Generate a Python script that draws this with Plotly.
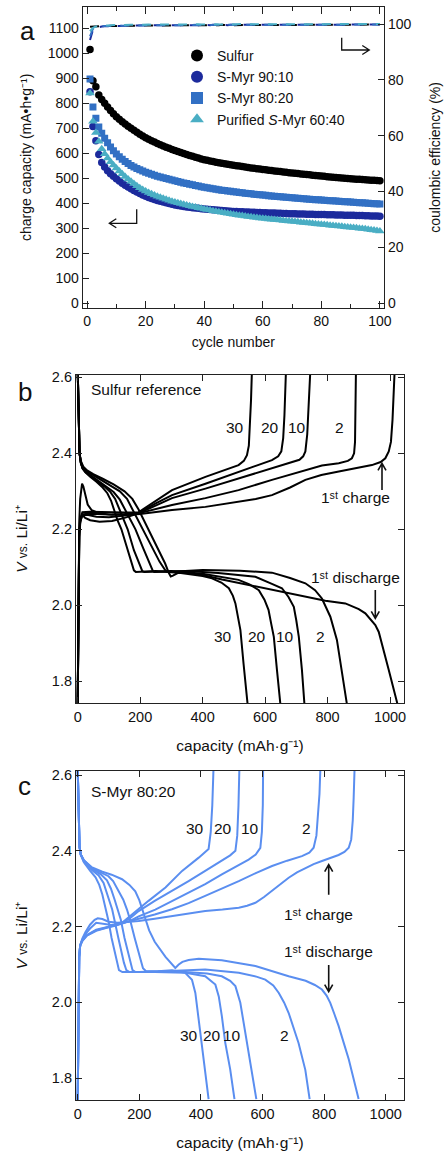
import math
import plotly.graph_objects as go

FONT = "Liberation Sans, Arial, Helvetica, sans-serif"
W, H = 445, 1157

# ---------------- panel a data ----------------
cycles = list(range(1, 101))

cap_sulfur = [1015, 890, 866, 833, 815, 800, 785, 771, 758, 746,
              736, 726, 717, 708, 700, 692, 684, 676, 669, 662,
              656, 650, 645, 639, 634, 629, 624, 620, 615, 611,
              607, 603, 599, 595, 591, 588, 584, 581, 577, 574,
              572, 569, 567, 564, 562, 560, 558, 556, 554, 552,
              550, 549, 547, 545, 543, 541, 540, 538, 537, 535,
              534, 532, 531, 529, 528, 527, 525, 524, 522, 521,
              520, 519, 517, 516, 515, 514, 512, 511, 510, 509,
              508, 506, 505, 504, 503, 502, 501, 500, 499, 498,
              497, 496, 496, 495, 494, 493, 492, 492, 491, 490]

cap_9010 = [846, 707, 650, 595, 563, 545, 530, 518, 508, 498,
            489, 480, 472, 465, 458, 451, 445, 439, 433, 428,
            423, 419, 415, 411, 408, 405, 402, 399, 396, 393,
            391, 389, 387, 385, 384, 382, 381, 380, 378, 377,
            376, 375, 374, 373, 372, 371, 370, 369, 368, 367,
            367, 366, 366, 365, 365, 364, 364, 363, 363, 362,
            362, 361, 361, 361, 360, 360, 359, 359, 358, 358,
            358, 357, 357, 357, 356, 356, 356, 355, 355, 355,
            355, 354, 354, 354, 353, 353, 353, 352, 352, 352,
            352, 351, 351, 351, 350, 350, 349, 349, 349, 348]

cap_8020 = [897, 785, 740, 705, 680, 660, 642, 625, 610, 597,
            586, 576, 567, 559, 551, 545, 539, 534, 529, 524,
            520, 516, 512, 508, 505, 502, 499, 496, 493, 490,
            487, 484, 481, 479, 476, 474, 471, 469, 466, 464,
            462, 460, 458, 456, 454, 452, 451, 449, 448, 446,
            445, 443, 442, 440, 439, 438, 436, 435, 434, 433,
            432, 430, 429, 428, 427, 426, 425, 424, 423, 422,
            421, 420, 419, 418, 417, 416, 415, 414, 414, 413,
            412, 411, 410, 410, 409, 408, 407, 406, 406, 405,
            404, 403, 402, 402, 401, 400, 399, 398, 398, 397]

cap_6040 = [840, 727, 682, 647, 617, 597, 580, 565, 552, 540,
            528, 517, 506, 496, 487, 478, 469, 461, 454, 448,
            442, 437, 432, 427, 423, 419, 415, 411, 407, 404,
            401, 398, 395, 392, 389, 386, 384, 381, 379, 376,
            374, 372, 369, 367, 365, 363, 361, 359, 357, 355,
            353, 351, 350, 348, 346, 345, 343, 342, 340, 339,
            338, 336, 335, 334, 333, 332, 330, 329, 328, 327,
            326, 325, 323, 322, 321, 320, 319, 317, 316, 315,
            314, 313, 311, 310, 309, 308, 307, 305, 304, 303,
            302, 301, 299, 298, 297, 295, 293, 292, 290, 288]

ce_sulfur = [99.0, 99.1, 99.2, 99.2, 99.3, 99.3, 99.3, 99.4, 99.4, 99.3,
             99.4, 99.4, 99.5, 99.4, 99.4, 99.5, 99.5, 99.4, 99.5, 99.5,
             99.5, 99.5, 99.4, 99.5, 99.5, 99.6, 99.5, 99.5, 99.5, 99.6,
             99.5, 99.6, 99.6, 99.5, 99.6, 99.6, 99.5, 99.6, 99.6, 99.6,
             99.6, 99.5, 99.6, 99.6, 99.6, 99.7, 99.6, 99.6, 99.5, 99.6,
             99.6, 99.6, 99.7, 99.6, 99.6, 99.6, 99.7, 99.6, 99.6, 99.7,
             99.6, 99.7, 99.6, 99.6, 99.7, 99.7, 99.6, 99.7, 99.6, 99.7,
             99.7, 99.6, 99.7, 99.7, 99.6, 99.7, 99.7, 99.7, 99.6, 99.7,
             99.7, 99.7, 99.6, 99.7, 99.7, 99.7, 99.8, 99.7, 99.7, 99.7,
             99.7, 99.8, 99.7, 99.7, 99.8, 99.7, 99.7, 99.8, 99.7, 99.8]

ce_9010 = [94.3, 97.9, 98.6, 98.9, 99.1, 99.2, 99.2, 99.3, 99.3, 99.4,
           99.4, 99.4, 99.4, 99.5, 99.4, 99.5, 99.5, 99.5, 99.4, 99.5,
           99.5, 99.5, 99.6, 99.5, 99.5, 99.5, 99.6, 99.5, 99.6, 99.6,
           99.5, 99.6, 99.6, 99.6, 99.5, 99.6, 99.6, 99.6, 99.7, 99.6,
           99.6, 99.6, 99.7, 99.6, 99.6, 99.7, 99.6, 99.6, 99.7, 99.7,
           99.6, 99.7, 99.7, 99.6, 99.7, 99.7, 99.7, 99.6, 99.7, 99.7,
           99.7, 99.7, 99.6, 99.7, 99.7, 99.8, 99.7, 99.7, 99.7, 99.7,
           99.8, 99.7, 99.7, 99.7, 99.8, 99.7, 99.7, 99.8, 99.7, 99.7,
           99.8, 99.7, 99.8, 99.7, 99.7, 99.8, 99.8, 99.7, 99.8, 99.8,
           99.7, 99.8, 99.8, 99.7, 99.8, 99.8, 99.8, 99.7, 99.8, 99.8]

ce_8020 = [95.6, 98.3, 98.9, 99.1, 99.2, 99.3, 99.3, 99.4, 99.4, 99.4,
           99.5, 99.4, 99.5, 99.5, 99.5, 99.5, 99.6, 99.5, 99.5, 99.6,
           99.6, 99.5, 99.6, 99.6, 99.6, 99.6, 99.5, 99.6, 99.6, 99.7,
           99.6, 99.6, 99.7, 99.6, 99.6, 99.7, 99.7, 99.6, 99.7, 99.7,
           99.6, 99.7, 99.7, 99.7, 99.7, 99.6, 99.7, 99.7, 99.8, 99.7,
           99.7, 99.7, 99.8, 99.7, 99.7, 99.7, 99.8, 99.7, 99.7, 99.8,
           99.7, 99.8, 99.7, 99.8, 99.7, 99.8, 99.8, 99.7, 99.8, 99.8,
           99.7, 99.8, 99.8, 99.8, 99.7, 99.8, 99.8, 99.8, 99.8, 99.7,
           99.8, 99.8, 99.8, 99.9, 99.8, 99.8, 99.8, 99.8, 99.9, 99.8,
           99.8, 99.8, 99.9, 99.8, 99.8, 99.9, 99.8, 99.8, 99.9, 99.8]

ce_6040 = [97.4, 98.6, 99.1, 99.3, 99.4, 99.5, 99.5, 99.6, 99.6, 99.6,
           99.7, 99.6, 99.7, 99.7, 99.7, 99.7, 99.8, 99.7, 99.7, 99.8,
           99.8, 99.7, 99.8, 99.8, 99.8, 99.8, 99.7, 99.8, 99.8, 99.9,
           99.8, 99.8, 99.9, 99.8, 99.8, 99.9, 99.8, 99.9, 99.8, 99.9,
           99.9, 99.8, 99.9, 99.9, 99.8, 99.9, 99.9, 99.9, 99.8, 99.9,
           99.9, 99.9, 100.0, 99.9, 99.9, 99.9, 99.9, 100.0, 99.9, 99.9,
           99.9, 100.0, 99.9, 99.9, 100.0, 99.9, 99.9, 100.0, 99.9, 100.0,
           99.9, 100.0, 99.9, 100.0, 100.0, 99.9, 100.0, 99.9, 100.0, 100.0,
           99.9, 100.0, 100.0, 99.9, 100.0, 100.0, 100.0, 99.9, 100.0, 100.0,
           100.0, 99.9, 100.0, 100.0, 100.0, 100.0, 99.9, 100.0, 100.0, 100.0]

series_names = ["Sulfur", "S-Myr 90:10", "S-Myr 80:20", "Purified <i>S</i>-Myr 60:40"]

# ---------------- panel b data: sulfur reference (capacity mAh/g, voltage V) ----------------
S_D1 = [(0, 2.62), (2, 2.55), (4, 2.45), (6, 2.40), (10, 2.38), (18, 2.365), (30, 2.355), (50, 2.345),
        (80, 2.333), (115, 2.318), (150, 2.3), (175, 2.28), (195, 2.252), (211, 2.225), (228, 2.2),
        (255, 2.155), (280, 2.11), (292, 2.085), (298, 2.076), (305, 2.078), (320, 2.085), (350, 2.086),
        (400, 2.08), (462, 2.068), (540, 2.055), (622, 2.04), (729, 2.023), (793, 2.012), (857, 2.005),
        (900, 1.99), (921, 1.979), (940, 1.962), (953, 1.948), (964, 1.93), (974, 1.90), (985, 1.865),
        (996, 1.83), (1024, 1.74)]
S_D2 = [(0, 2.62), (2, 2.55), (4, 2.45), (6, 2.40), (10, 2.378), (16, 2.363), (25, 2.355), (45, 2.345),
        (75, 2.332), (105, 2.317), (135, 2.3), (158, 2.28), (177, 2.25), (192, 2.225), (208, 2.2),
        (235, 2.155), (262, 2.115), (280, 2.093), (288, 2.088), (400, 2.093), (520, 2.091), (622, 2.086),
        (680, 2.072), (729, 2.058), (760, 2.04), (782, 2.018), (809, 1.97), (830, 1.909), (846, 1.83),
        (862, 1.74)]
S_D10 = [(0, 2.62), (2, 2.55), (4, 2.45), (6, 2.40), (10, 2.375), (16, 2.36), (25, 2.352), (40, 2.343),
         (65, 2.33), (90, 2.315), (115, 2.298), (135, 2.278), (152, 2.25), (168, 2.225), (185, 2.2),
         (210, 2.15), (230, 2.11), (240, 2.092), (245, 2.088), (350, 2.09), (450, 2.085), (569, 2.075),
         (620, 2.057), (654, 2.045), (675, 2.022), (692, 1.996), (700, 1.96), (708, 1.917), (718, 1.83),
         (726, 1.74)]
S_D20 = [(0, 2.62), (2, 2.55), (4, 2.45), (6, 2.40), (10, 2.375), (16, 2.36), (25, 2.35), (40, 2.34),
         (60, 2.328), (85, 2.313), (105, 2.298), (120, 2.28), (132, 2.255), (145, 2.228), (160, 2.2),
         (180, 2.145), (198, 2.105), (207, 2.09), (213, 2.088), (300, 2.09), (400, 2.083), (515, 2.067),
         (550, 2.055), (580, 2.04), (598, 2.015), (611, 1.988), (620, 1.95), (628, 1.917), (638, 1.83),
         (649, 1.74)]
S_D30 = [(0, 2.62), (2, 2.55), (4, 2.45), (6, 2.40), (10, 2.375), (16, 2.36), (25, 2.35), (40, 2.338),
         (60, 2.325), (80, 2.31), (95, 2.295), (107, 2.275), (117, 2.25), (127, 2.225), (140, 2.2),
         (155, 2.16), (170, 2.115), (180, 2.092), (186, 2.088), (250, 2.09), (330, 2.085), (400, 2.077),
         (430, 2.071), (460, 2.06), (484, 2.045), (497, 2.025), (505, 2.005), (513, 1.97), (521, 1.935),
         (531, 1.847), (544, 1.74)]

S_C1 = [(0, 1.74), (1.5, 1.95), (3, 2.12), (5, 2.22), (8, 2.28), (11, 2.31), (14, 2.32), (18, 2.313),
        (24, 2.29), (32, 2.265), (45, 2.25), (70, 2.242), (110, 2.238), (160, 2.238), (200, 2.24),
        (250, 2.245), (302, 2.251), (409, 2.259), (515, 2.273), (570, 2.28), (622, 2.29), (680, 2.31),
        (729, 2.33), (780, 2.343), (836, 2.352), (890, 2.36), (942, 2.369), (970, 2.377), (985, 2.387),
        (996, 2.405), (1003, 2.43), (1008, 2.488), (1012, 2.55), (1015, 2.62)]
S_C2 = [(0, 1.74), (1.5, 1.95), (3, 2.1), (5, 2.18), (8, 2.215), (12, 2.232), (17, 2.236), (24, 2.23),
        (40, 2.224), (70, 2.22), (110, 2.222), (150, 2.23), (195, 2.242), (250, 2.253), (302, 2.264),
        (409, 2.282), (515, 2.303), (622, 2.33), (729, 2.356), (782, 2.368), (836, 2.374), (865, 2.38),
        (878, 2.387), (885, 2.40), (888, 2.43), (890, 2.5), (891, 2.62)]
S_C10 = [(0, 1.74), (1.5, 1.95), (3, 2.1), (5, 2.18), (8, 2.22), (15, 2.236), (30, 2.238), (60, 2.233),
         (100, 2.232), (150, 2.236), (195, 2.242), (250, 2.263), (302, 2.282), (409, 2.307), (515, 2.334),
         (622, 2.36), (680, 2.375), (710, 2.383), (722, 2.392), (729, 2.405), (735, 2.45), (740, 2.52),
         (745, 2.62)]
S_C20 = [(0, 1.74), (1.5, 1.95), (3, 2.1), (5, 2.19), (8, 2.225), (15, 2.24), (40, 2.241), (100, 2.239),
         (150, 2.24), (195, 2.243), (250, 2.268), (302, 2.29), (409, 2.32), (515, 2.351), (580, 2.37),
         (622, 2.382), (642, 2.392), (652, 2.405), (658, 2.44), (662, 2.5), (667, 2.62)]
S_C30 = [(0, 1.74), (1.5, 1.95), (3, 2.1), (5, 2.19), (8, 2.228), (15, 2.245), (40, 2.246), (100, 2.244),
         (150, 2.244), (195, 2.245), (250, 2.276), (302, 2.303), (409, 2.338), (480, 2.36), (515, 2.369),
         (532, 2.38), (542, 2.395), (548, 2.42), (552, 2.48), (555, 2.54), (558, 2.62)]

# ---------------- panel c data: S-Myr 80:20 ----------------
M_D1 = [(0, 2.62), (2, 2.55), (4, 2.46), (6, 2.41), (10, 2.39), (20, 2.375), (45, 2.357), (80, 2.345),
        (110, 2.337), (144, 2.325), (168, 2.31), (187, 2.293), (200, 2.27), (209, 2.25), (220, 2.22),
        (232, 2.19), (250, 2.16), (285, 2.12), (317, 2.091), (328, 2.1), (340, 2.107), (360, 2.112),
        (393, 2.115), (468, 2.111), (577, 2.096), (685, 2.069), (740, 2.057), (770, 2.046), (793, 2.034),
        (808, 2.018), (820, 1.999), (833, 1.97), (847, 1.938), (865, 1.89), (880, 1.85), (912, 1.745)]
M_D2 = [(0, 2.62), (2, 2.55), (4, 2.46), (6, 2.41), (10, 2.39), (20, 2.375), (45, 2.355), (80, 2.34),
        (100, 2.333), (115, 2.32), (132, 2.295), (148, 2.271), (160, 2.245), (170, 2.218), (185, 2.17),
        (205, 2.11), (212, 2.09), (222, 2.082), (300, 2.083), (414, 2.087), (523, 2.078), (580, 2.068),
        (609, 2.06), (635, 2.045), (653, 2.025), (670, 2.0), (685, 1.972), (717, 1.893), (739, 1.822),
        (753, 1.745)]
M_D10 = [(0, 2.62), (2, 2.55), (4, 2.46), (6, 2.41), (10, 2.39), (20, 2.373), (45, 2.353), (75, 2.338),
         (95, 2.322), (108, 2.3), (120, 2.271), (131, 2.245), (140, 2.218), (152, 2.17), (170, 2.11),
         (178, 2.085), (188, 2.08), (250, 2.08), (350, 2.08), (420, 2.076), (468, 2.069), (495, 2.057),
         (512, 2.043), (528, 1.999), (539, 1.946), (555, 1.859), (580, 1.745)]
M_D20 = [(0, 2.62), (2, 2.55), (4, 2.46), (6, 2.41), (10, 2.39), (20, 2.372), (45, 2.35), (68, 2.335),
         (84, 2.315), (95, 2.29), (104, 2.265), (112, 2.245), (120, 2.218), (132, 2.17), (150, 2.105),
         (158, 2.085), (168, 2.08), (250, 2.08), (350, 2.078), (414, 2.069), (447, 2.047), (458, 2.016),
         (468, 1.964), (479, 1.894), (495, 1.824), (509, 1.745)]
M_D30 = [(0, 2.62), (2, 2.55), (4, 2.46), (6, 2.41), (10, 2.39), (20, 2.37), (40, 2.348), (58, 2.33),
         (70, 2.31), (80, 2.285), (90, 2.25), (100, 2.215), (110, 2.17), (124, 2.115), (134, 2.085),
         (145, 2.08), (200, 2.08), (260, 2.082), (306, 2.085), (349, 2.078), (371, 2.06), (382, 2.025),
         (391, 1.964), (404, 1.885), (414, 1.815), (425, 1.745)]

M_C1 = [(0, 1.74), (1.5, 1.9), (3, 2.05), (5, 2.12), (8, 2.15), (15, 2.168), (25, 2.185), (40, 2.205),
        (55, 2.218), (65, 2.222), (80, 2.22), (100, 2.213), (130, 2.21), (165, 2.212), (198, 2.215),
        (250, 2.221), (306, 2.228), (360, 2.235), (414, 2.241), (470, 2.245), (523, 2.25), (550, 2.255),
        (577, 2.263), (605, 2.278), (631, 2.294), (660, 2.314), (685, 2.329), (712, 2.343), (739, 2.355),
        (766, 2.365), (793, 2.373), (820, 2.381), (847, 2.389), (866, 2.397), (880, 2.408), (888, 2.43),
        (893, 2.48), (896, 2.54), (899, 2.62)]
M_C2 = [(0, 1.74), (1.5, 1.9), (3, 2.05), (5, 2.12), (8, 2.15), (15, 2.165), (25, 2.18), (40, 2.195),
        (60, 2.21), (80, 2.208), (110, 2.204), (150, 2.21), (198, 2.22), (250, 2.232), (306, 2.246),
        (360, 2.262), (414, 2.281), (470, 2.3), (523, 2.32), (580, 2.342), (631, 2.36), (680, 2.374),
        (728, 2.386), (752, 2.395), (766, 2.408), (775, 2.44), (781, 2.5), (785, 2.55), (788, 2.62)]
M_C10 = [(0, 1.74), (1.5, 1.9), (3, 2.05), (5, 2.12), (8, 2.15), (15, 2.163), (30, 2.178), (60, 2.192),
         (100, 2.2), (140, 2.207), (170, 2.215), (198, 2.227), (252, 2.245), (300, 2.265), (360, 2.289),
         (414, 2.312), (468, 2.338), (520, 2.362), (555, 2.377), (578, 2.39), (593, 2.408), (598, 2.45),
         (601, 2.52), (602, 2.62)]
M_C20 = [(0, 1.74), (1.5, 1.9), (3, 2.05), (5, 2.12), (8, 2.15), (15, 2.163), (30, 2.177), (60, 2.19),
         (100, 2.199), (140, 2.208), (170, 2.222), (198, 2.241), (250, 2.268), (306, 2.294), (360, 2.32),
         (414, 2.347), (468, 2.373), (495, 2.388), (512, 2.40), (518, 2.44), (522, 2.52), (525, 2.62)]
M_C30 = [(0, 1.74), (1.5, 1.9), (3, 2.05), (5, 2.12), (8, 2.15), (15, 2.162), (30, 2.176), (60, 2.189),
         (100, 2.198), (125, 2.203), (144, 2.21), (176, 2.232), (230, 2.268), (285, 2.303), (339, 2.347),
         (393, 2.382), (413, 2.395), (425, 2.405), (432, 2.45), (437, 2.52), (441, 2.62)]

# ---------------- styling ----------------
COLORS = ["#000000", "#1c2a9c", "#3270c4", "#4aaec4"]
SYMBOLS = ["circle", "circle", "square", "triangle-up"]
SIZES = [7.5, 7.5, 7, 8.5]
BLUE_C = "#5a8ef0"


def px(x):
    return x / W


def py(y):
    return 1 - y / H


fig = go.Figure()

# coulombic efficiency (right axis)
for ce, col in zip([ce_sulfur, ce_9010, ce_8020, ce_6040], COLORS):
    fig.add_trace(go.Scatter(x=cycles, y=ce, mode="lines", xaxis="x", yaxis="y2",
                             line=dict(color=col, width=2, dash="dash"),
                             showlegend=False, hoverinfo="skip"))

# charge capacity (left axis)
for cap, name, col, sym, sz in zip([cap_sulfur, cap_9010, cap_8020, cap_6040], series_names,
                                   COLORS, SYMBOLS, SIZES):
    fig.add_trace(go.Scatter(x=cycles, y=cap, mode="markers", name=name, xaxis="x", yaxis="y",
                             marker=dict(symbol=sym, size=sz, color=col, line=dict(width=0))))

for curve in [S_D1, S_D2, S_D10, S_D20, S_D30, S_C1, S_C2, S_C10, S_C20, S_C30]:
    fig.add_trace(go.Scatter(x=[p[0] for p in curve], y=[p[1] for p in curve], mode="lines",
                             xaxis="x2", yaxis="y3", line=dict(color="black", width=2),
                             showlegend=False, hoverinfo="skip"))

for curve in [M_D1, M_D2, M_D10, M_D20, M_D30, M_C1, M_C2, M_C10, M_C20, M_C30]:
    fig.add_trace(go.Scatter(x=[p[0] for p in curve], y=[p[1] for p in curve], mode="lines",
                             xaxis="x3", yaxis="y4", line=dict(color=BLUE_C, width=2),
                             showlegend=False, hoverinfo="skip"))

ax_common = dict(showline=True, linecolor="#222", linewidth=1.2, ticks="inside", tickcolor="#222",
                 tickwidth=1.2, showgrid=False, zeroline=False, automargin=False,
                 tickfont=dict(family=FONT, size=14, color="#111"))
TF14 = dict(family=FONT, size=14, color="#111")
TF155 = dict(family=FONT, size=15.5, color="#111")
vlabel = "<i>V</i> <span style='font-size:12px'>vs.</span> Li/Li\u207a"
caplabel = "capacity (mAh\u00b7g\u207b\u00b9)"

fig.update_layout(
    width=W, height=H, margin=dict(l=0, r=0, t=0, b=0, autoexpand=False),
    paper_bgcolor="white", plot_bgcolor="white",
    font=dict(family=FONT, size=14, color="#111"),
    showlegend=True,
    legend=dict(x=px(177), y=py(40), xanchor="left", yanchor="top", bgcolor="rgba(0,0,0,0)",
                font=dict(family=FONT, size=14, color="#111"), itemsizing="constant",
                tracegroupgap=0),
    xaxis=dict(ax_common, domain=[px(82.7), px(384)], anchor="y", range=[-1.5, 101.4],
               tickvals=[0, 20, 40, 60, 80, 100], ticklen=7, mirror="ticks",
               minor=dict(tickvals=[10, 30, 50, 70, 90], ticklen=4, ticks="inside",
                          tickcolor="#222", tickwidth=1.2),
               title=dict(text="cycle number", font=TF14, standoff=9)),
    yaxis=dict(ax_common, domain=[py(308), py(6.7)], anchor="x", range=[-19, 1186],
               tick0=0, dtick=100, ticklen=6,
               title=dict(text="charge capacity (mA\u2022h\u2022g\u207b\u00b9)", font=TF14, standoff=12)),
    yaxis2=dict(ax_common, overlaying="y", side="right", anchor="x", range=[-1.68, 106.2],
                tick0=0, dtick=20, ticklen=6,
                title=dict(text="coulombic efficiency (%)", font=TF14, standoff=19)),
    xaxis2=dict(ax_common, domain=[px(76), px(404)], anchor="y3", range=[-5.4, 1044.8],
                tick0=0, dtick=200, ticklen=6, mirror="ticks",
                tickfont=dict(family=FONT, size=14.5, color="#111"),
                title=dict(text=caplabel, font=TF155, standoff=16)),
    yaxis3=dict(ax_common, domain=[py(703), py(375)], anchor="x2", range=[1.743, 2.606],
                tick0=1.8, dtick=0.2, tickformat=".1f", ticklen=6, mirror="ticks",
                tickfont=dict(family=FONT, size=14.5, color="#111"),
                title=dict(text=vlabel, font=TF155, standoff=20)),
    xaxis3=dict(ax_common, domain=[px(76), px(404)], anchor="y4", range=[-5.5, 1059.4],
                tick0=0, dtick=200, ticklen=6, mirror="ticks",
                tickfont=dict(family=FONT, size=14.5, color="#111"),
                title=dict(text=caplabel, font=TF155, standoff=16)),
    yaxis4=dict(ax_common, domain=[py(1100), py(771)], anchor="x3", range=[1.7425, 2.6106],
                tick0=1.8, dtick=0.2, tickformat=".1f", ticklen=6, mirror="ticks",
                tickfont=dict(family=FONT, size=14.5, color="#111"),
                title=dict(text=vlabel, font=TF155, standoff=20)),
)

ann = []
shapes = []


def txt(x, y, text, size=15.5, xanchor="center", angle=0):
    ann.append(dict(x=px(x), y=py(y), xref="paper", yref="paper", text=text, showarrow=False,
                    xanchor=xanchor, yanchor="middle", textangle=angle,
                    font=dict(family=FONT, size=size, color="#111")))


def arrow_path(points, width=1.6, head_len=7, head_half=4):
    """Poly-line through pixel points, with an open V head at the last point."""
    (x1, y1), (x2, y2) = points[-2], points[-1]
    d = math.hypot(x2 - x1, y2 - y1)
    ux, uy = (x2 - x1) / d, (y2 - y1) / d
    bx, by = x2 - head_len * ux, y2 - head_len * uy
    w1 = (bx - head_half * uy, by + head_half * ux)
    w2 = (bx + head_half * uy, by - head_half * ux)
    path = "M " + " L ".join(f"{px(x)},{py(y)}" for x, y in points)
    path += f" M {px(w1[0])},{py(w1[1])} L {px(x2)},{py(y2)} L {px(w2[0])},{py(w2[1])}"
    shapes.append(dict(type="path", xref="paper", yref="paper", path=path,
                       line=dict(color="#111", width=width)))


FIRST_CHARGE = "1\u02e2\u1d57 charge"
FIRST_DISCHARGE = "1\u02e2\u1d57 discharge"

# panel letters
txt(27, 31, "a", size=26)
txt(25, 392, "b", size=26)
txt(24, 786, "c", size=26)

# panel b texts
txt(88.7, 390, "Sulfur reference", xanchor="left")
for x, t in [(234.5, "30"), (269.5, "20"), (297, "10"), (339.5, "2")]:
    txt(x, 427.5, t)
for x, t in [(222.8, "30"), (257, "20"), (284.8, "10"), (320, "2")]:
    txt(x, 636, t)
txt(355.5, 497, FIRST_CHARGE)
txt(355, 577.5, FIRST_DISCHARGE)
arrow_path([(382, 490), (382, 463.3)])
arrow_path([(375.3, 590), (375.3, 618.3)])

# panel c texts
txt(88.7, 791, "S-Myr 80:20", xanchor="left")
for x, t in [(195.3, "30"), (222.5, "20"), (250, "10"), (306.7, "2")]:
    txt(x, 828.8, t)
for x, t in [(188.7, "30"), (212.3, "20"), (232, "10"), (284, "2")]:
    txt(x, 1035.8, t)
txt(318.7, 914, FIRST_CHARGE)
txt(328.7, 951, FIRST_DISCHARGE)
arrow_path([(328.7, 894.7), (328.7, 864.7)])
arrow_path([(328.7, 965), (328.7, 991.7)])

# panel a axis-pointer arrows
arrow_path([(341.7, 37.7), (341.7, 50), (369.3, 50)], width=1.3, head_len=7, head_half=4.5)
arrow_path([(136.7, 209.3), (136.7, 223.3), (109.3, 223.3)], width=1.3, head_len=7, head_half=4.5)

fig.update_layout(annotations=ann, shapes=shapes)
fig.write_html("out.html")
